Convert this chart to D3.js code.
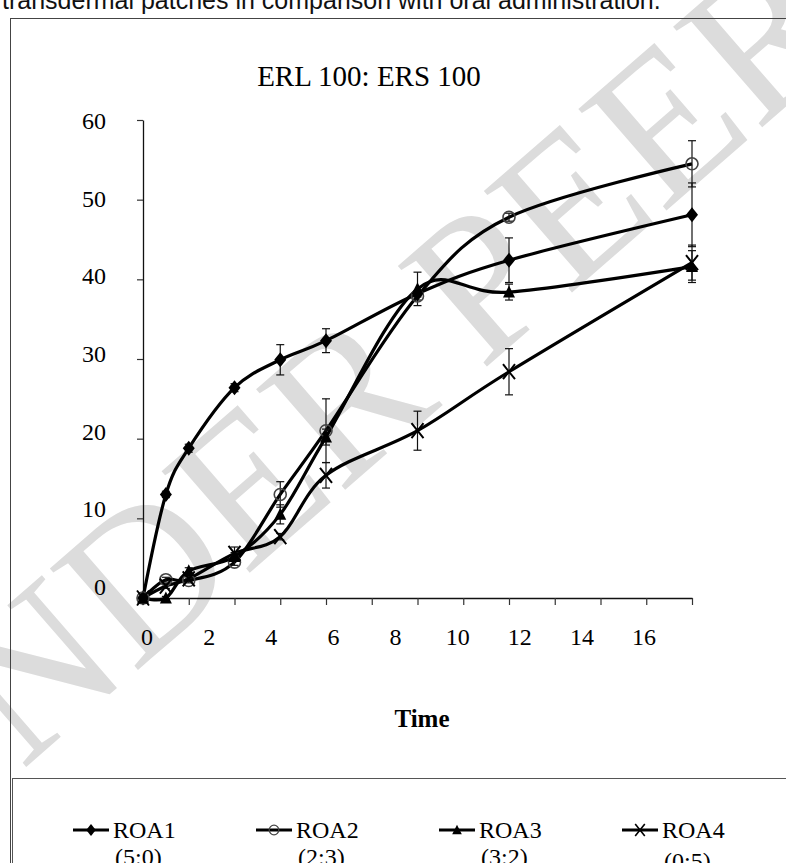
<!DOCTYPE html>
<html>
<head>
<meta charset="utf-8">
<script src="https://cdn.jsdelivr.net/npm/d3@7"></script>
<style>
body { margin: 0; background: #fff; }
svg { display: block; }
</style>
</head>
<body>
<svg width="786" height="863"></svg>
<script>
// time points (h) and % released for each patch
var times = [0, 0.5, 1, 2, 3, 4, 6, 8, 12];
var roa1 = [0, 13.0, 18.8, 26.4, 29.9, 32.3, 38.2, 42.4, 48.1];
var roa1Err = [0, 0.4, 0.5, 0.5, 1.9, 1.5, 0.4, 2.8, 4.0];
var roa2 = [0, 2.3, 2.2, 4.5, 13.0, 21.0, 37.9, 47.8, 54.5];
var roa2Err = [0, 0.3, 0.3, 0.4, 1.6, 4.0, 0.5, 0.5, 2.9];
var roa3 = [0, 0.0, 3.4, 5.2, 10.5, 20.2, 38.8, 38.4, 41.6];
var roa3Err = [0, 0.2, 0.4, 0.5, 1.2, 1.0, 2.1, 1.0, 2.0];
var roa4 = [0, 1.5, 2.4, 5.6, 7.7, 15.4, 21.0, 28.4, 42.1];
var roa4Err = [0, 0.3, 0.3, 0.8, 0.4, 1.6, 2.45, 2.9, 2.2];

var seriesNames = ["ROA1", "ROA2", "ROA3", "ROA4"];
var seriesRatios = ["(5:0)", "(2:3)", "(3:2)", "(0:5)"];
var xTickLabels = [0, 2, 4, 6, 8, 10, 12, 14, 16];
var yTickLabels = [0, 10, 20, 30, 40, 50, 60];
var chartTitle = "ERL 100: ERS 100";
var xTitle = "Time";
var captionText = "transdermal patches in comparison with oral administration.";
var watermarkText = "UNDER PEER REVIEW";

var serif = "'Liberation Serif', 'Times New Roman', serif";
var svg = d3.select('svg');

// watermark behind everything
svg.append("text")
    .attr("transform", "translate(-90,868) rotate(-41)")
    .attr("font-family", serif)
    .attr("font-size", 205)
    .attr("fill", "#dcdcdc")
    .text(watermarkText);

// cut-off caption line of the page
svg.append("text")
    .attr("x", 2)
    .attr("y", 9)
    .attr("font-family", "'Liberation Sans', Arial, sans-serif")
    .attr("font-size", 25)
    .attr("fill", "#111")
    .text(captionText);

// chart frame + legend frame
svg.append("rect").attr("x", 10.5).attr("y", 18.5).attr("width", 800).attr("height", 900)
    .attr("fill", "none").attr("stroke", "#444");
svg.append("rect").attr("x", 12.5).attr("y", 778.5).attr("width", 800).attr("height", 120)
    .attr("fill", "none").attr("stroke", "#555");

var x = d3.scaleLinear().domain([0, 12]).range([143, 692]);
var y = d3.scaleLinear().domain([0, 60]).range([598, 120]);
// tick labels in the source are pasted text that does not line up with the ticks
var xLab = d3.scaleLinear().domain([0, 16]).range([147, 644]);
var yLab = d3.scaleLinear().domain([0, 60]).range([595, 129]);

svg.append("g")
    .attr("transform", "translate(0,598)")
    .call(d3.axisBottom(x).tickValues(d3.range(0, 13)).tickSize(7).tickSizeOuter(0).tickFormat(""));
svg.append("g")
    .attr("transform", "translate(143,0)")
    .call(d3.axisLeft(y).tickValues(yTickLabels).tickSize(6).tickSizeOuter(0).tickFormat(""));
svg.selectAll(".domain").attr("stroke", "#111").attr("stroke-width", 1.3);
svg.selectAll(".tick line").attr("stroke", "#333").attr("stroke-width", 1.2);

svg.append("g").selectAll("text").data(xTickLabels).enter().append("text")
    .attr("x", function (d) { return xLab(d); })
    .attr("y", 645)
    .attr("text-anchor", "middle")
    .attr("font-family", serif)
    .attr("font-size", 24)
    .text(function (d) { return d; });

svg.append("g").selectAll("text").data(yTickLabels).enter().append("text")
    .attr("x", 106)
    .attr("y", function (d) { return yLab(d); })
    .attr("text-anchor", "end")
    .attr("font-family", serif)
    .attr("font-size", 24)
    .text(function (d) { return d; });

svg.append("text")
    .attr("x", 369).attr("y", 86)
    .attr("text-anchor", "middle")
    .attr("font-family", serif)
    .attr("font-size", 29)
    .text(chartTitle);

svg.append("text")
    .attr("x", 422).attr("y", 727)
    .attr("text-anchor", "middle")
    .attr("font-family", serif)
    .attr("font-weight", "bold")
    .attr("font-size", 25)
    .text(xTitle);

// marker shapes (a little taller than wide, as in the source)
var diamond = { draw: function (c, s) { var w = Math.sqrt(s) / 2, h = w * 1.25;
    c.moveTo(0, -h); c.lineTo(w, 0); c.lineTo(0, h); c.lineTo(-w, 0); c.closePath(); } };
var ring = { draw: function (c, s) { var r = Math.sqrt(s) / 2;
    c.ellipse ? c.ellipse(0, 0, r, r * 1.2, 0, 0, 2 * Math.PI) : c.arc(0, 0, r, 0, 2 * Math.PI); } };
var tri = { draw: function (c, s) { var w = Math.sqrt(s) / 2;
    c.moveTo(0, -w * 1.1); c.lineTo(w, w * 0.9); c.lineTo(-w, w * 0.9); c.closePath(); } };
var cross = { draw: function (c, s) { var w = Math.sqrt(s) / 2, h = w * 1.25;
    c.moveTo(-w, -h); c.lineTo(w, h); c.moveTo(-w, h); c.lineTo(w, -h); } };

var series = [
    { name: seriesNames[0], values: roa1, err: roa1Err, shape: diamond, size: 144, fill: "#000", stroke: "none", sw: 0 },
    { name: seriesNames[1], values: roa2, err: roa2Err, shape: ring, size: 144, fill: "none", stroke: "#444", sw: 1.6 },
    { name: seriesNames[2], values: roa3, err: roa3Err, shape: tri, size: 144, fill: "#000", stroke: "none", sw: 0 },
    { name: seriesNames[3], values: roa4, err: roa4Err, shape: cross, size: 144, fill: "none", stroke: "#000", sw: 2 }
];

var line = d3.line()
    .x(function (d, i) { return x(times[i]); })
    .y(function (d) { return y(d); })
    .curve(d3.curveCatmullRom.alpha(0));

series.forEach(function (s) {
    svg.append("path")
        .attr("d", line(s.values))
        .attr("fill", "none")
        .attr("stroke", "#000")
        .attr("stroke-width", 3.2);
});

series.forEach(function (s) {
    var g = svg.append("g").attr("stroke", "#111").attr("stroke-width", 1.2);
    s.values.forEach(function (v, i) {
        if (!s.err[i]) return;
        var cx = x(times[i]), y0 = y(v - s.err[i]), y1 = y(v + s.err[i]);
        g.append("line").attr("x1", cx).attr("x2", cx).attr("y1", y0).attr("y2", y1);
        g.append("line").attr("x1", cx - 4).attr("x2", cx + 4).attr("y1", y0).attr("y2", y0);
        g.append("line").attr("x1", cx - 4).attr("x2", cx + 4).attr("y1", y1).attr("y2", y1);
    });
});

series.forEach(function (s) {
    var sym = d3.symbol().type(s.shape).size(s.size);
    svg.append("g").selectAll("path").data(s.values).enter().append("path")
        .attr("transform", function (d, i) { return "translate(" + x(times[i]) + "," + y(d) + ")"; })
        .attr("d", sym)
        .attr("fill", s.fill)
        .attr("stroke", s.stroke)
        .attr("stroke-width", s.sw);
});

// legend
var legend = svg.append("g").selectAll("g").data(series).enter().append("g")
    .attr("transform", function (d, i) { return "translate(" + (73 + i * 183) + ",0)"; });
legend.append("line")
    .attr("x1", 0).attr("x2", 36).attr("y1", 830).attr("y2", 830)
    .attr("stroke", "#000").attr("stroke-width", 3);
legend.append("path")
    .attr("transform", "translate(18,830) scale(0.8)")
    .attr("d", function (d) { return d3.symbol().type(d.shape).size(d.size)(); })
    .attr("fill", function (d) { return d.fill; })
    .attr("stroke", function (d) { return d.stroke; })
    .attr("stroke-width", function (d) { return d.sw; });
legend.append("text")
    .attr("x", 40).attr("y", 838)
    .attr("font-family", serif).attr("font-size", 24)
    .text(function (d) { return d.name; });
legend.append("text")
    .attr("x", 42).attr("y", function (d, i) { return i === 3 ? 869 : 865; })
    .attr("font-family", serif).attr("font-size", 24)
    .text(function (d, i) { return seriesRatios[i]; });
</script>
</body>
</html>
